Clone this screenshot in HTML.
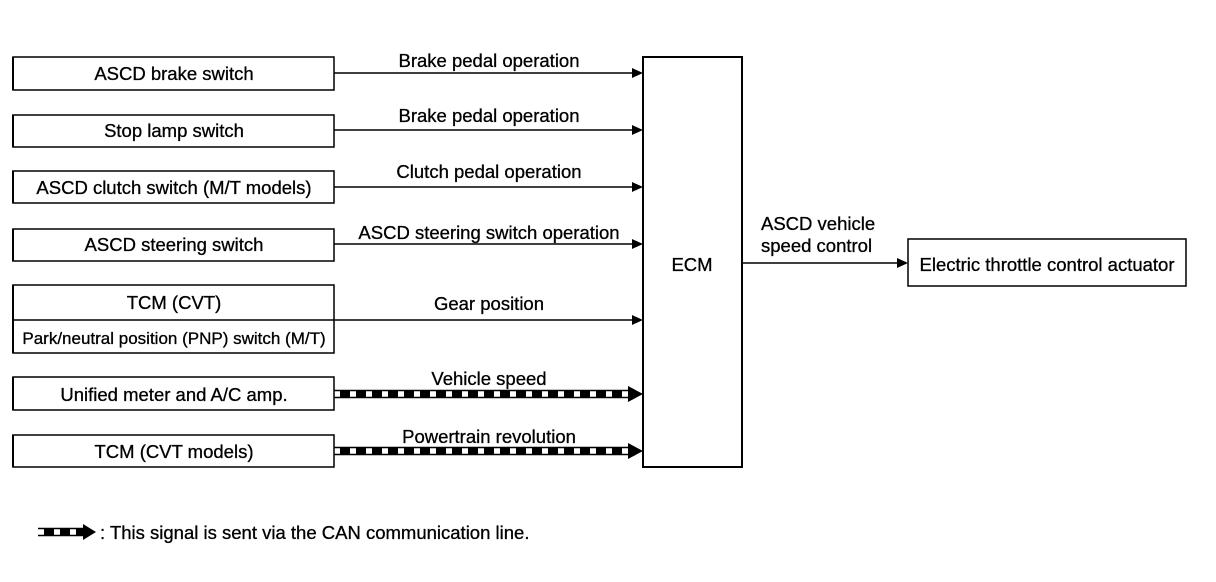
<!DOCTYPE html>
<html><head><meta charset="utf-8"><style>
html,body{margin:0;padding:0;background:#fff;}
svg{display:block;}
text{font-family:"Liberation Sans",Arial,sans-serif;font-size:18.5px;fill:#000;stroke:#000;stroke-width:0.3px;}
</style></head><body>
<svg width="1216" height="582" viewBox="0 0 1216 582" xmlns="http://www.w3.org/2000/svg">
<g fill="none" stroke="#000" stroke-width="1.5">
<rect x="13" y="57" width="321" height="33"/>
<rect x="13" y="115" width="321" height="32"/>
<rect x="13" y="171" width="321" height="32"/>
<rect x="13" y="229" width="321" height="32"/>
<rect x="13" y="285" width="321" height="68"/>
<line x1="13" y1="320" x2="334" y2="320"/>
<rect x="13" y="377" width="321" height="33"/>
<rect x="13" y="435" width="321" height="32"/>
<rect x="643" y="57" width="99" height="410" stroke-width="2"/>
<rect x="908" y="239" width="278" height="47"/>
</g>
<g stroke="#000" stroke-width="2">
<line x1="13" y1="57" x2="13" y2="90"/><line x1="13" y1="115" x2="13" y2="147"/>
<line x1="13" y1="171" x2="13" y2="203"/><line x1="13" y1="229" x2="13" y2="261"/>
<line x1="13" y1="285" x2="13" y2="353"/><line x1="13" y1="377" x2="13" y2="410"/>
<line x1="13" y1="435" x2="13" y2="467"/>
<g stroke-width="1.5">
<line x1="334" y1="73" x2="634" y2="73"/>
<line x1="334" y1="130" x2="634" y2="130"/>
<line x1="334" y1="187" x2="634" y2="187"/>
<line x1="334" y1="244" x2="634" y2="244"/>
<line x1="334" y1="320" x2="634" y2="320"/>
<line x1="742" y1="263" x2="900" y2="263"/>
</g>
</g>
<g fill="#000">
<polygon points="632,68 643,73 632,78"/>
<polygon points="632,125 643,130 632,135"/>
<polygon points="632,182 643,187 632,192"/>
<polygon points="632,239 643,244 632,249"/>
<polygon points="632,315 643,320 632,325"/>
<polygon points="628,386 643,394 628,402"/>
<polygon points="628,443 643,451 628,459"/>
<polygon points="897,258 908,263 897,268"/>
<polygon points="83,524 96,532 83,540"/>
</g>
<g stroke="#000">
<line x1="334" y1="390.5" x2="632" y2="390.5" stroke-width="1.5"/>
<line x1="334" y1="397.5" x2="632" y2="397.5" stroke-width="1.5"/>
<line x1="340" y1="394" x2="632" y2="394" stroke-width="6" stroke-dasharray="10,6"/>
<line x1="334" y1="447.5" x2="632" y2="447.5" stroke-width="1.5"/>
<line x1="334" y1="454.5" x2="632" y2="454.5" stroke-width="1.5"/>
<line x1="340" y1="451" x2="632" y2="451" stroke-width="6" stroke-dasharray="10,6"/>
<line x1="38" y1="528.5" x2="85" y2="528.5" stroke-width="1.5"/>
<line x1="38" y1="535.5" x2="85" y2="535.5" stroke-width="1.5"/>
<line x1="44" y1="532" x2="85" y2="532" stroke-width="6" stroke-dasharray="10,6"/>
</g>
<g text-anchor="middle">
<text x="174" y="80">ASCD brake switch</text>
<text x="174" y="137">Stop lamp switch</text>
<text x="174" y="194">ASCD clutch switch (M/T models)</text>
<text x="174" y="251">ASCD steering switch</text>
<text x="174" y="309">TCM (CVT)</text>
<text x="174" y="344" style="font-size:17px">Park/neutral position (PNP) switch (M/T)</text>
<text x="174" y="401">Unified meter and A/C amp.</text>
<text x="174" y="458">TCM (CVT models)</text>
<text x="489" y="67">Brake pedal operation</text>
<text x="489" y="122">Brake pedal operation</text>
<text x="489" y="178">Clutch pedal operation</text>
<text x="489" y="239">ASCD steering switch operation</text>
<text x="489" y="310">Gear position</text>
<text x="489" y="385">Vehicle speed</text>
<text x="489" y="443">Powertrain revolution</text>
<text x="692" y="271">ECM</text>
<text x="1047" y="271">Electric throttle control actuator</text>
</g>
<text x="761" y="230">ASCD vehicle</text>
<text x="761" y="252">speed control</text>
<text x="100" y="539">: This signal is sent via the CAN communication line.</text>
</svg>
</body></html>
